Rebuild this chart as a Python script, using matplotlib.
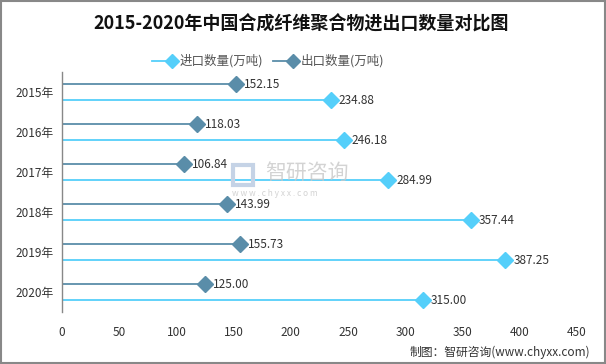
import numpy as np
import matplotlib as mpl
import matplotlib.pyplot as plt
from matplotlib.lines import Line2D
from matplotlib.patches import Rectangle

plt.rcParams['font.family'] = ['Noto Sans CJK SC', 'DejaVu Sans']

years = ["2015年", "2016年", "2017年", "2018年", "2019年", "2020年"]
imports = [234.88, 246.18, 284.99, 357.44, 387.25, 315.00]
exports = [152.15, 118.03, 106.84, 143.99, 155.73, 125.00]
x_ticks = [0, 50, 100, 150, 200, 250, 300, 350, 400, 450]

c_imp = "#55CFFA"
c_exp = "#5A8DA9"

fig = plt.figure(figsize=(6.06, 3.64), dpi=100)
ax = fig.add_axes([62 / 606, 1 - 312 / 364, 515 / 606, 240 / 364])

pos = np.arange(len(years))
for i in pos:
    ax.plot([0, exports[i]], [i + 0.3, i + 0.3], color=c_exp, lw=1.3)
    ax.plot(exports[i], i + 0.3, marker="D", color=c_exp, ms=8)
    ax.text(exports[i] + 7, i + 0.3, f"{exports[i]:.2f}", va="center", ha="left",
            fontsize=8.5, color="#333333")
    ax.plot([0, imports[i]], [i + 0.7, i + 0.7], color=c_imp, lw=1.3)
    ax.plot(imports[i], i + 0.7, marker="D", color=c_imp, ms=8)
    ax.text(imports[i] + 7, i + 0.7, f"{imports[i]:.2f}", va="center", ha="left",
            fontsize=8.5, color="#333333")

ax.set_xlim(0, 450)
ax.set_ylim(len(years), 0)
ax.set_xticks(x_ticks)
ax.set_xticklabels([str(t) for t in x_ticks], fontsize=8.5, color="#333333")
ax.set_yticks(pos + 0.5)
ax.set_yticklabels(years, fontsize=8.5, color="#333333")
ax.tick_params(axis="both", length=0, pad=10)
ax.tick_params(axis="y", pad=6)
for s in ["top", "right", "bottom"]:
    ax.spines[s].set_visible(False)
ax.spines["left"].set_color("#888888")
ax.spines["left"].set_linewidth(1)

# title
fig.text(0.497, 1 - 24 / 364, "2015-2020年中国合成纤维聚合物进出口数量对比图",
         ha="center", va="center", fontsize=13, fontweight="bold", color="#111111")

# legend (manual, marker at end of line)
W, H = 606, 364
ly = 1 - 61 / H
for x0, col, lab in [(152, c_imp, "进口数量(万吨)"), (273, c_exp, "出口数量(万吨)")]:
    fig.add_artist(Line2D([x0 / W, (x0 + 20) / W], [ly, ly], color=col, lw=1.3))
    fig.add_artist(Line2D([(x0 + 20) / W], [ly], marker="D", color=col, ms=7))
    fig.text((x0 + 28) / W, ly, lab, ha="left", va="center", fontsize=9, color="#555555")

# watermark
fig.text(265 / W, 1 - 173 / H, "智研咨询", ha="left", va="center", fontsize=15,
         color="#c8c8c8", alpha=0.8)
fig.text(232 / W, 1 - 193 / H, "w w w . c h y x x . c o m", ha="left", va="center",
         fontsize=6, color="#c8c8c8", alpha=0.8)
fig.add_artist(Rectangle((233 / W, 1 - 185 / H), 20 / W, 20 / H, fill=False,
                         edgecolor="#c5d3e6", lw=3))

# source
fig.text(590 / W, 1 - 352 / H, "制图：智研咨询(www.chyxx.com)", ha="right", va="center",
         fontsize=8.5, color="#333333")

# border
fig.add_artist(Rectangle((0.0015, 0.0025), 0.997, 0.995, fill=False,
                         edgecolor="#888888", lw=1.5, transform=fig.transFigure))

fig.savefig("out.png", dpi=100)
